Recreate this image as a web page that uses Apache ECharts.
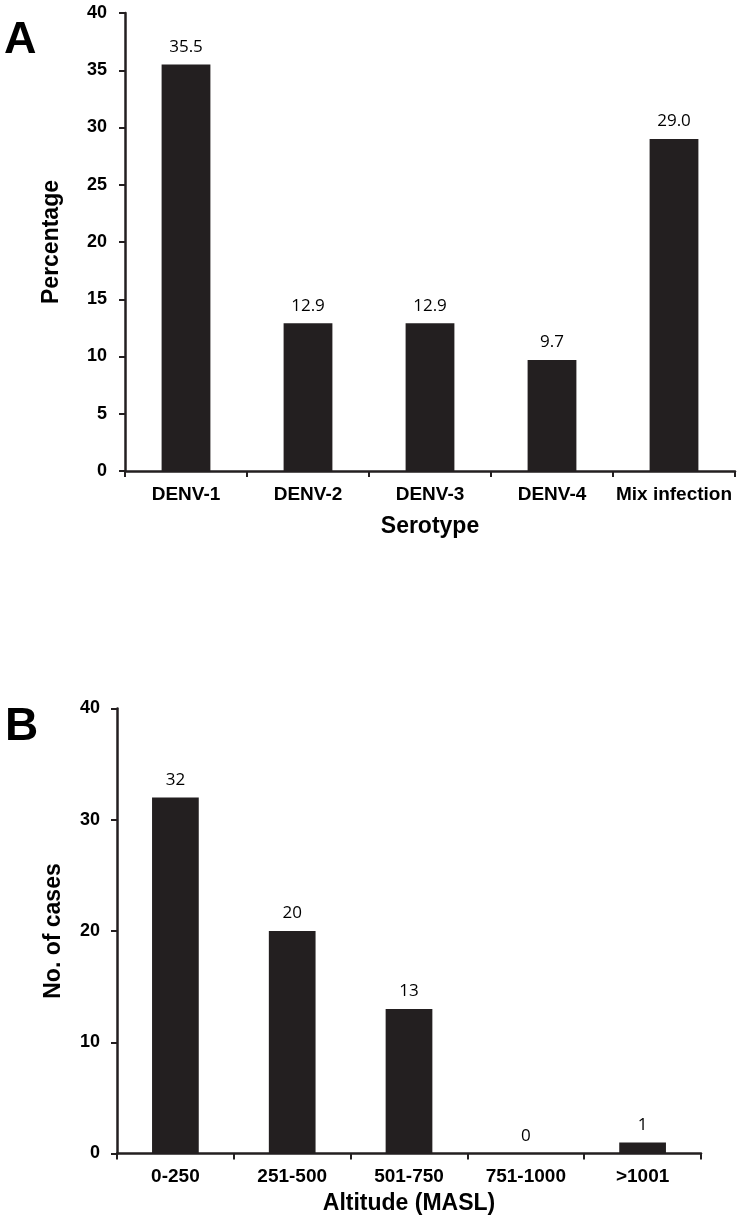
<!DOCTYPE html>
<html>
<head>
<meta charset="utf-8">
<script src="https://cdn.jsdelivr.net/npm/echarts@6/dist/echarts.min.js"></script>
<style>
html,body{margin:0;padding:0;background:#fff;}
#chart{width:738px;height:1224px;}
</style>
</head>
<body>
<div id="chart"></div>
<script>
const serotypes = ['DENV-1', 'DENV-2', 'DENV-3', 'DENV-4', 'Mix infection'];
const serotypePct = [35.5, 12.9, 12.9, 9.7, 29.0];
const altitudes = ['0-250', '251-500', '501-750', '751-1000', '>1001'];
const altitudeCases = [32, 20, 13, 0, 1];

const ink = '#231f20';
const axisFont = 'Arial, "Liberation Sans", Helvetica, sans-serif';
const chart = echarts.init(document.getElementById('chart'));

function catAxis(gridIndex, data, name, nameGap) {
  return {
    type: 'category', gridIndex, data, name, nameLocation: 'middle', nameGap,
    nameTextStyle: {fontFamily: axisFont, fontWeight: 'bold', fontSize: 23, color: '#000'},
    axisLine: {lineStyle: {color: ink, width: 2.5}},
    axisTick: {show: true, length: 6, lineStyle: {color: ink, width: 2}},
    axisLabel: {fontFamily: axisFont, fontWeight: 'bold', fontSize: 19, color: '#000', margin: 14, interval: 0}
  };
}
function valAxis(gridIndex, max, interval, name, nameGap, margin) {
  return {
    type: 'value', gridIndex, min: 0, max, interval, name, nameLocation: 'middle', nameGap,
    nameTextStyle: {fontFamily: axisFont, fontWeight: 'bold', fontSize: 23, color: '#000'},
    splitLine: {show: false},
    axisLine: {show: true, lineStyle: {color: ink, width: 2.5}},
    axisTick: {show: true, length: 6, lineStyle: {color: ink, width: 2}},
    axisLabel: {fontFamily: axisFont, fontWeight: 'bold', fontSize: 18, color: '#000', margin}
  };
}
const labelStyle = {show: true, position: 'top', distance: 9, fontFamily: '"Open Sans", "Noto Sans", sans-serif', fontSize: 17, color: '#000'};

chart.setOption({
  animation: false,
  backgroundColor: '#fff',
  grid: [
    {left: 125, top: 13, right: 3, bottom: 753},
    {left: 117, top: 708.5, right: 37, bottom: 70.5}
  ],
  xAxis: [
    catAxis(0, serotypes, 'Serotype', 44),
    catAxis(1, altitudes, 'Altitude (MASL)', 39)
  ],
  yAxis: [
    valAxis(0, 40, 5, 'Percentage', 62, 18),
    valAxis(1, 40, 10, 'No. of cases', 52, 17)
  ],
  series: [
    {type: 'bar', xAxisIndex: 0, yAxisIndex: 0, data: serotypePct, barWidth: '40%',
     itemStyle: {color: ink}, label: Object.assign({}, labelStyle, {formatter: p => p.value.toFixed(1)})},
    {type: 'bar', xAxisIndex: 1, yAxisIndex: 1, data: altitudeCases, barWidth: '40%',
     itemStyle: {color: ink}, label: Object.assign({}, labelStyle, {formatter: p => String(p.value)})}
  ],
  graphic: [
    {type: 'text', left: 4, top: 18, style: {text: 'A', font: 'bold 45px Arial, "Liberation Sans", sans-serif', fill: '#000'}},
    {type: 'text', left: 5, top: 704, style: {text: 'B', font: 'bold 46px Arial, "Liberation Sans", sans-serif', fill: '#000'}}
  ]
});
</script>
</body>
</html>
